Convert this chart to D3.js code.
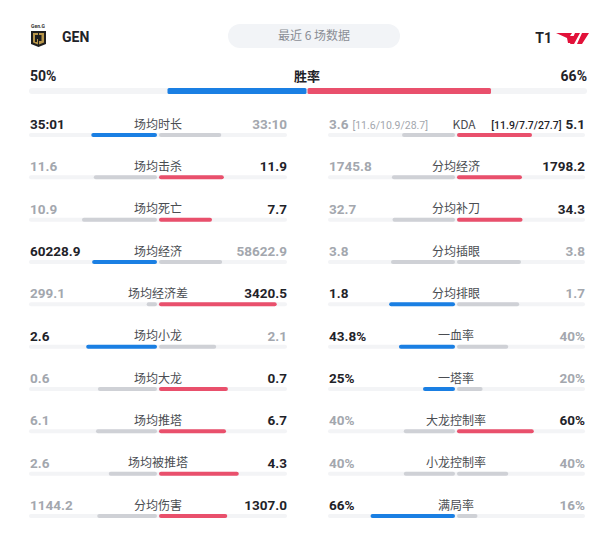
<!DOCTYPE html>
<html><head><meta charset="utf-8">
<script src="https://cdn.jsdelivr.net/npm/d3@7/dist/d3.min.js"></script>
<style>
html,body{margin:0;padding:0;background:#fff;}
svg{display:block;}
</style></head>
<body>
<div id="chart"></div>
<script>
// ---------- data ----------
const teams = ["GEN", "T1"];
const headerTitle = "最近 6 场数据";
const winRateLabel = "胜率";
const winRates = [50, 66];

const leftLabels = ["场均时长","场均击杀","场均死亡","场均经济","场均经济差","场均小龙","场均大龙","场均推塔","场均被推塔","分均伤害"];
const leftGenText = ["35:01","11.6","10.9","60228.9","299.1","2.6","0.6","6.1","2.6","1144.2"];
const leftT1Text  = ["33:10","11.9","7.7","58622.9","3420.5","2.1","0.7","6.7","4.3","1307.0"];
const leftGenVal  = [35.02, 11.6, 10.9, 60228.9, 299.1, 2.6, 0.6, 6.1, 2.6, 1144.2];
const leftT1Val   = [33.17, 11.9, 7.7, 58622.9, 3420.5, 2.1, 0.7, 6.7, 4.3, 1307.0];
const leftWinner  = ["gen","t1","t1","gen","t1","gen","t1","t1","t1","t1"];

const rightLabels = ["KDA","分均经济","分均补刀","分均插眼","分均排眼","一血率","一塔率","大龙控制率","小龙控制率","满局率"];
const rightGenText = ["3.6","1745.8","32.7","3.8","1.8","43.8%","25%","40%","40%","66%"];
const rightT1Text  = ["5.1","1798.2","34.3","3.8","1.7","40%","20%","60%","40%","16%"];
const rightGenVal  = [3.6, 1745.8, 32.7, 3.8, 1.8, 43.8, 25, 40, 40, 66];
const rightT1Val   = [5.1, 1798.2, 34.3, 3.8, 1.7, 40, 20, 60, 40, 16];
const rightIsRate  = [false,false,false,false,false,true,true,true,true,true];
const rightWinner  = ["t1","t1","t1","none","gen","gen","gen","t1","none","gen"];
const kdaDetail = ["[11.6/10.9/28.7]", "[11.9/7.7/27.7]"];

// ---------- drawing ----------
const W = 615, H = 543;
const BLUE = "#1a7fe3", RED = "#e9506c", GREYBAR = "#cfd1d6", TRACK = "#f3f4f6";
const DARK = "#1f2329", LIGHT = "#a3a7ae", LABEL = "#4a4d52";
const NUMFONT = "Roboto, 'Noto Sans', sans-serif";
const CJK = "'Noto Sans CJK SC', 'Noto Sans', sans-serif";

const svg = d3.select("#chart").append("svg").attr("width", W).attr("height", H);

// header
const g0 = svg.append("g");
// GEN logo (simplified)
g0.append("text").attr("x", 38).attr("y", 28).attr("text-anchor","middle")
  .attr("font-family", NUMFONT).attr("font-size", 5).attr("font-weight", 700).attr("fill", "#333").text("Gen.G");
g0.append("path").attr("d","M31,31 L46,31 L46,44 L38.5,47 L31,44 Z").attr("fill","#1f1f1f");
g0.append("path").attr("d","M33,33 L38,33 L38,35 L35,35 L35,42 L37,42 L37,39 L38,39 L38,44.5 L33,42.5 Z").attr("fill","#b8964a");
g0.append("path").attr("d","M39,33 L44,33 L44,42.5 L39,44.5 L39,41 L41.5,41 L41.5,35 L39,35 Z").attr("fill","#b8964a");
g0.append("text").attr("x", 62).attr("y", 42).attr("font-family", NUMFONT).attr("font-size", 14)
  .attr("font-weight", 700).attr("fill", DARK).text(teams[0]);

g0.append("rect").attr("x", 228).attr("y", 24).attr("width", 172).attr("height", 24).attr("rx", 12).attr("fill", "#f2f4f7");
g0.append("text").attr("x", 314).attr("y", 40).attr("text-anchor","middle").attr("font-family", CJK)
  .attr("font-size", 12).attr("fill", "#8a8e95").text(headerTitle);

g0.append("text").attr("x", 552).attr("y", 43).attr("text-anchor","end").attr("font-family", NUMFONT).attr("font-size", 14)
  .attr("font-weight", 700).attr("fill", DARK).text(teams[1]);
g0.append("path").attr("d","M556,33 L572,33 L570,36 L576,36 L572,43 L568,43 L567,38 Z").attr("fill","#e2123a");
g0.append("path").attr("d","M575,33 L580,33 L574,44 L570,44 Z M582,33 L589,33 L582,44 L577,44 Z").attr("fill","#e2123a");

// win rate
const winScale = d3.scaleLinear().domain([0, 100]).range([0, 278]);
const wc = 307, wy = 88;
svg.append("text").attr("x", 30).attr("y", 81).attr("font-family", NUMFONT).attr("font-size", 14)
  .attr("font-weight", 700).attr("fill", DARK).text(winRates[0] + "%");
svg.append("text").attr("x", 587).attr("y", 81).attr("text-anchor","end").attr("font-family", NUMFONT).attr("font-size", 14)
  .attr("font-weight", 700).attr("fill", DARK).text(winRates[1] + "%");
svg.append("text").attr("x", wc).attr("y", 81).attr("text-anchor","middle").attr("font-family", CJK).attr("font-size", 13)
  .attr("font-weight", 700).attr("fill", DARK).text(winRateLabel);
svg.append("rect").attr("x", 29).attr("y", wy).attr("width", 558).attr("height", 6).attr("rx", 3).attr("fill", TRACK);
svg.append("rect").attr("x", wc - 0.5 - winScale(winRates[0])).attr("y", wy).attr("width", winScale(winRates[0]))
  .attr("height", 6).attr("rx", 1.5).attr("fill", BLUE);
svg.append("rect").attr("x", wc + 0.5).attr("y", wy).attr("width", winScale(winRates[1]))
  .attr("height", 6).attr("rx", 1.5).attr("fill", RED);

// rows
const rowY = d3.scaleLinear().domain([0, 9]).range([124, 505]);
const shareScale = d3.scaleLinear().domain([0, 1]).range([0, 128]);
const rateScale = d3.scaleLinear().domain([0, 100]).range([0, 128]);

function drawColumn(cfg) {
  const { x0, x1, center, labels, genText, t1Text, genVal, t1Val, isRate, winner, labelX } = cfg;
  labels.forEach((lab, i) => {
    const y = rowY(i);
    const g = svg.append("g");
    const w = winner[i];
    const genW = isRate && isRate[i] ? rateScale(genVal[i]) : shareScale(genVal[i] / (genVal[i] + t1Val[i]));
    const t1W  = isRate && isRate[i] ? rateScale(t1Val[i]) : shareScale(t1Val[i] / (genVal[i] + t1Val[i]));
    // track
    g.append("rect").attr("x", x0).attr("y", y + 9).attr("width", x1 - x0).attr("height", 4).attr("rx", 2).attr("fill", TRACK);
    g.append("rect").attr("x", center - 1 - genW).attr("y", y + 9).attr("width", genW).attr("height", 4).attr("rx", 2)
      .attr("fill", w === "gen" ? BLUE : GREYBAR);
    g.append("rect").attr("x", center + 1).attr("y", y + 9).attr("width", t1W).attr("height", 4).attr("rx", 2)
      .attr("fill", w === "t1" ? RED : GREYBAR);
    // label
    g.append("text").attr("x", labelX ? labelX(i) : center).attr("y", y + 4.5).attr("text-anchor", "middle")
      .attr("font-family", CJK).attr("font-size", 12).attr("fill", LABEL).text(lab);
    // values
    const lt = g.append("text").attr("x", x0 + 1).attr("y", y + 5).attr("font-family", NUMFONT).attr("font-size", 13.5)
      .attr("font-weight", 700).attr("fill", w === "gen" ? DARK : LIGHT).text(genText[i]);
    const rt = g.append("text").attr("x", x1).attr("y", y + 5).attr("text-anchor", "end").attr("font-family", NUMFONT)
      .attr("font-size", 13.5).attr("font-weight", 700).attr("fill", w === "t1" ? DARK : LIGHT).text(t1Text[i]);
    if (cfg.detail && i === 0) {
      lt.append("tspan").attr("dx", 4).attr("font-size", 10.5).attr("font-weight", 400).text(cfg.detail[0]);
      rt.text(null);
      rt.append("tspan").attr("font-size", 10.5).attr("font-weight", 500).attr("fill", DARK).text(cfg.detail[1]);
      rt.append("tspan").attr("dx", 4).text(t1Text[i]);
    }
  });
}

drawColumn({ x0: 29, x1: 287, center: 158, labels: leftLabels, genText: leftGenText, t1Text: leftT1Text,
  genVal: leftGenVal, t1Val: leftT1Val, isRate: null, winner: leftWinner });
drawColumn({ x0: 328, x1: 585, center: 456, labels: rightLabels, genText: rightGenText, t1Text: rightT1Text,
  genVal: rightGenVal, t1Val: rightT1Val, isRate: rightIsRate, winner: rightWinner, detail: kdaDetail,
  labelX: i => i === 0 ? 464 : 456 });
</script>
</body></html>
